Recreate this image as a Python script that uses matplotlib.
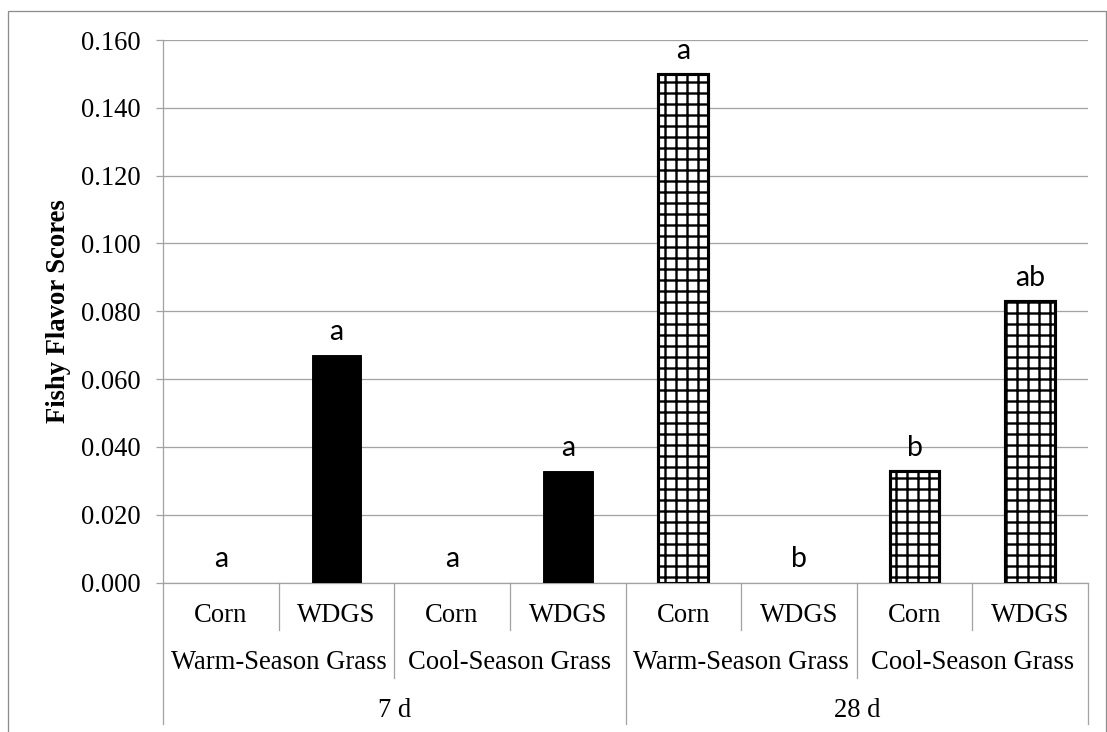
import numpy as np
import matplotlib
matplotlib.use("Agg")
import matplotlib.pyplot as plt
from matplotlib.patches import Rectangle

# data
days = ["7 d", "28 d"]
grasses = ["Warm-Season Grass", "Cool-Season Grass"]
diets = ["Corn", "WDGS"]
scores = [0.000, 0.067, 0.000, 0.033, 0.150, 0.000, 0.033, 0.083]
letters = ["a", "a", "a", "a", "a", "b", "b", "ab"]

DPI = 66
W, H = 1107, 732
serif = "Liberation Serif"
fs = 29
plt.rcParams["hatch.linewidth"] = 2.6

fig = plt.figure(figsize=(W / DPI, H / DPI), dpi=DPI)
# axes placed by pixel edges of the plot area
left, right, top, bottom = 163, 1088, 40, 582.5
ax = fig.add_axes([left / W, 1 - bottom / H, (right - left) / W, (bottom - top) / H])

grid_gray = "#a3a3a3"
x = np.arange(len(scores))
for i, v in enumerate(scores):
    if i < 4:
        ax.bar(x[i], v, width=0.43, color="black", edgecolor="black",
               linewidth=1 if v > 0 else 0, zorder=3)
    else:
        ax.bar(x[i], v, width=0.43, color="white", edgecolor="black",
               linewidth=3.4 if v > 0 else 0, hatch="+", zorder=3)
    ax.annotate(letters[i], (x[i], v), xytext=(0, 11), textcoords="offset points",
                ha="center", va="bottom", fontsize=31, family="Lato")

ax.set_xlim(-0.5, len(scores) - 0.5)
ax.set_ylim(0, 0.16)
ax.set_yticks(np.arange(0, 0.161, 0.02))
ax.set_yticklabels(["%.3f" % t for t in np.arange(0, 0.161, 0.02)], family=serif, fontsize=fs)
ax.yaxis.grid(True, color=grid_gray, linewidth=1.4, zorder=0)
ax.set_axisbelow(True)
ax.tick_params(axis="y", length=8, width=1.4, color=grid_gray, pad=16)
ax.tick_params(axis="x", bottom=False, labelbottom=False)
for s in ["top", "right"]:
    ax.spines[s].set_visible(False)
for s in ["left", "bottom"]:
    ax.spines[s].set_color(grid_gray)
    ax.spines[s].set_linewidth(1.4)
ax.set_ylabel("Fishy Flavor Scores", family=serif, fontsize=fs, fontweight="bold", labelpad=11)

# multi-level category axis below the plot
tr = ax.get_xaxis_transform()
ax_h = bottom - top
def fy(px):
    return -px / ax_h

for i in range(len(scores)):
    ax.text(x[i], fy(33), diets[i % 2], transform=tr, ha="center", va="center",
            family=serif, fontsize=fs)
for j in range(4):
    ax.text(2 * j + 0.5, fy(80), grasses[j % 2], transform=tr, ha="center", va="center",
            family=serif, fontsize=fs)
for k in range(2):
    ax.text(4 * k + 1.5, fy(128), days[k], transform=tr, ha="center", va="center",
            family=serif, fontsize=fs)

for b in np.arange(-0.5, len(scores), 1.0):
    if (b + 0.5) % 4 == 0:
        depth = 141
    elif (b + 0.5) % 2 == 0:
        depth = 95
    else:
        depth = 47
    ax.plot([b, b], [0, fy(depth)], transform=tr, color=grid_gray, linewidth=1.4,
            clip_on=False)

# outer chart border
fig.patches.append(Rectangle((8 / W, -0.02), (1105.5 - 8) / W, 1.02 - 10.5 / H,
                             transform=fig.transFigure, fill=False,
                             edgecolor="#8c8c8c", linewidth=1.4))

fig.savefig("out.png", dpi=DPI)
